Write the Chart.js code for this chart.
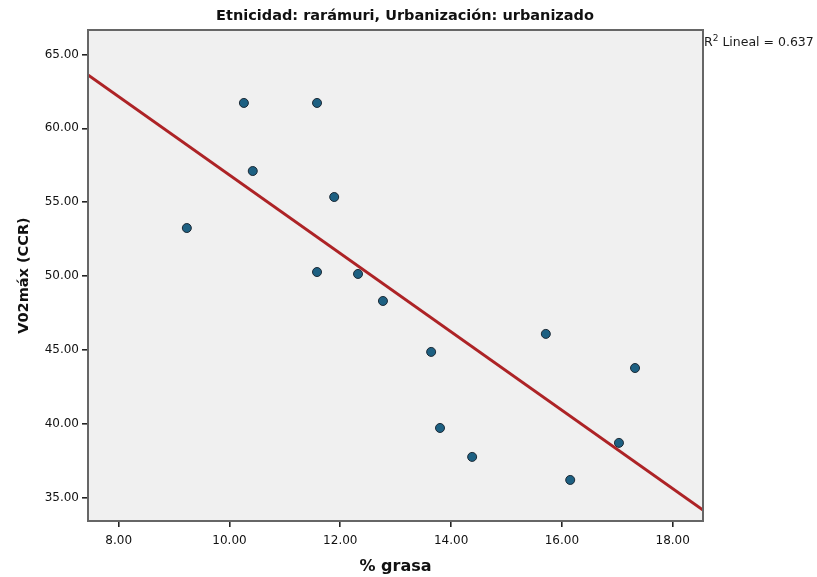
<!DOCTYPE html>
<html>
<head>
<meta charset="utf-8">
<title>V02máx vs % grasa</title>
<script src="https://cdn.jsdelivr.net/npm/chart.js@4.4.1/dist/chart.umd.min.js"></script>
<style>
    html, body { margin: 0; padding: 0; background: #fff; }
    #wrap { width: 817px; height: 577px; position: relative; }
</style>
</head>
<body>
<div id="wrap"><canvas id="scatterChart"></canvas></div>
<script>
// Observations (one per subject)
const grasa = [10.26, 11.58, 10.42, 11.89, 9.23, 11.58, 12.32, 12.77, 13.64, 15.71, 17.32, 13.80, 14.38, 17.03, 16.15];
const vo2max = [61.72, 61.72, 57.11, 55.35, 53.25, 50.27, 50.14, 48.31, 44.86, 46.08, 43.77, 39.71, 37.75, 38.70, 36.19];

// Axis ticks
const xTicks = [8, 10, 12, 14, 16, 18];
const yTicks = [35, 40, 45, 50, 55, 60, 65];

const chartTitle = 'Etnicidad: rarámuri, Urbanización: urbanizado';
const xTitle = '% grasa';
const yTitle = 'V02máx (CCR)';

(function() {
    'use strict';

    const X_MIN = 7.446, X_MAX = 18.547;
    const Y_MIN = 33.41, Y_MAX = 66.66;
    const FONT = "'DejaVu Sans', 'Liberation Sans', sans-serif";

    /**
     * Least squares fit of y on x
     * @returns {{a:number, b:number, r2:number}}
     */
    function linearFit(xs, ys) {
        const n = xs.length;
        const mx = xs.reduce((s, v) => s + v, 0) / n;
        const my = ys.reduce((s, v) => s + v, 0) / n;
        let sxy = 0, sxx = 0, syy = 0;
        for (let i = 0; i < n; i++) {
            sxy += (xs[i] - mx) * (ys[i] - my);
            sxx += (xs[i] - mx) * (xs[i] - mx);
            syy += (ys[i] - my) * (ys[i] - my);
        }
        const b = sxy / sxx;
        return { a: my - b * mx, b: b, r2: (sxy * sxy) / (sxx * syy) };
    }

    const fit = linearFit(grasa, vo2max);
    const points = grasa.map((x, i) => ({ x: x, y: vo2max[i] }));
    const fitLine = [X_MIN, X_MAX].map(x => ({ x: x, y: fit.a + fit.b * x }));

    // Grey plot background, frame, heading and the R² note to the right
    const plotFrame = {
        id: 'plotFrame',
        beforeDatasetsDraw(chart) {
            const { ctx, chartArea: a } = chart;
            ctx.save();
            ctx.fillStyle = '#f0f0f0';
            ctx.fillRect(a.left, a.top, a.right - a.left, a.bottom - a.top);
            ctx.restore();
        },
        afterDraw(chart) {
            const { ctx, chartArea: a } = chart;
            ctx.save();
            ctx.strokeStyle = '#666';
            ctx.lineWidth = 2;
            ctx.strokeRect(a.left, a.top, a.right - a.left, a.bottom - a.top);

            // heading, centred on the page rather than on the plot box
            ctx.fillStyle = '#111';
            ctx.font = 'bold 14.5px ' + FONT;
            ctx.textAlign = 'center';
            ctx.textBaseline = 'middle';
            ctx.fillText(chartTitle, 405, 16);

            // R² Lineal = ...
            ctx.fillStyle = '#1a1a1a';
            ctx.textAlign = 'left';
            ctx.textBaseline = 'alphabetic';
            let x = a.right + 1;
            const y = a.top + 16;
            ctx.font = '12.5px ' + FONT;
            ctx.fillText('R', x, y);
            x += ctx.measureText('R').width;
            ctx.font = '9px ' + FONT;
            ctx.fillText('2', x, y - 5);
            x += ctx.measureText('2').width;
            ctx.font = '12.5px ' + FONT;
            ctx.fillText(' Lineal = ' + fit.r2.toFixed(3), x, y);
            ctx.restore();
        }
    };

    const ctx = document.getElementById('scatterChart');

    new Chart(ctx, {
        data: {
            datasets: [{
                type: 'scatter',
                label: yTitle,
                data: points,
                backgroundColor: '#1d6082',
                borderColor: '#1c2a36',
                borderWidth: 1,
                pointRadius: 4.5
            }, {
                type: 'line',
                label: 'Lineal',
                data: fitLine,
                borderColor: '#ad2326',
                borderWidth: 3,
                pointRadius: 0,
                fill: false
            }]
        },
        plugins: [plotFrame],
        options: {
            responsive: true,
            maintainAspectRatio: false,
            animation: false,
            events: [],
            layout: {
                padding: { top: 30, right: 114, bottom: 0, left: 0 }
            },
            scales: {
                x: {
                    type: 'linear',
                    position: 'bottom',
                    min: X_MIN,
                    max: X_MAX,
                    afterBuildTicks: function(scale) {
                        scale.ticks = xTicks.map(v => ({ value: v }));
                    },
                    afterFit: function(scale) {
                        scale.height = 56;
                    },
                    grid: {
                        drawOnChartArea: false,
                        drawTicks: true,
                        tickLength: 6,
                        lineWidth: 1.6,
                        color: '#222'
                    },
                    border: { display: false },
                    ticks: {
                        padding: 7,
                        color: '#111',
                        font: { family: FONT, size: 12 },
                        callback: v => Number(v).toFixed(2)
                    },
                    title: {
                        display: true,
                        text: xTitle,
                        color: '#111',
                        font: { family: FONT, size: 16, weight: 'bold' },
                        padding: { top: 0, bottom: 1 }
                    }
                },
                y: {
                    type: 'linear',
                    position: 'left',
                    min: Y_MIN,
                    max: Y_MAX,
                    afterBuildTicks: function(scale) {
                        scale.ticks = yTicks.map(v => ({ value: v }));
                    },
                    afterFit: function(scale) {
                        scale.width = 88;
                    },
                    grid: {
                        drawOnChartArea: false,
                        drawTicks: true,
                        tickLength: 6,
                        lineWidth: 1.6,
                        color: '#222'
                    },
                    border: { display: false },
                    ticks: {
                        padding: 3,
                        color: '#111',
                        font: { family: FONT, size: 12 },
                        callback: v => Number(v).toFixed(2)
                    },
                    title: {
                        display: true,
                        text: yTitle,
                        color: '#111',
                        font: { family: FONT, size: 14.5, weight: 'bold' },
                        padding: { top: 16, bottom: 0 }
                    }
                }
            },
            plugins: {
                legend: { display: false },
                tooltip: { enabled: false },
                title: { display: false }
            }
        }
    });
})();
</script>
</body>
</html>
